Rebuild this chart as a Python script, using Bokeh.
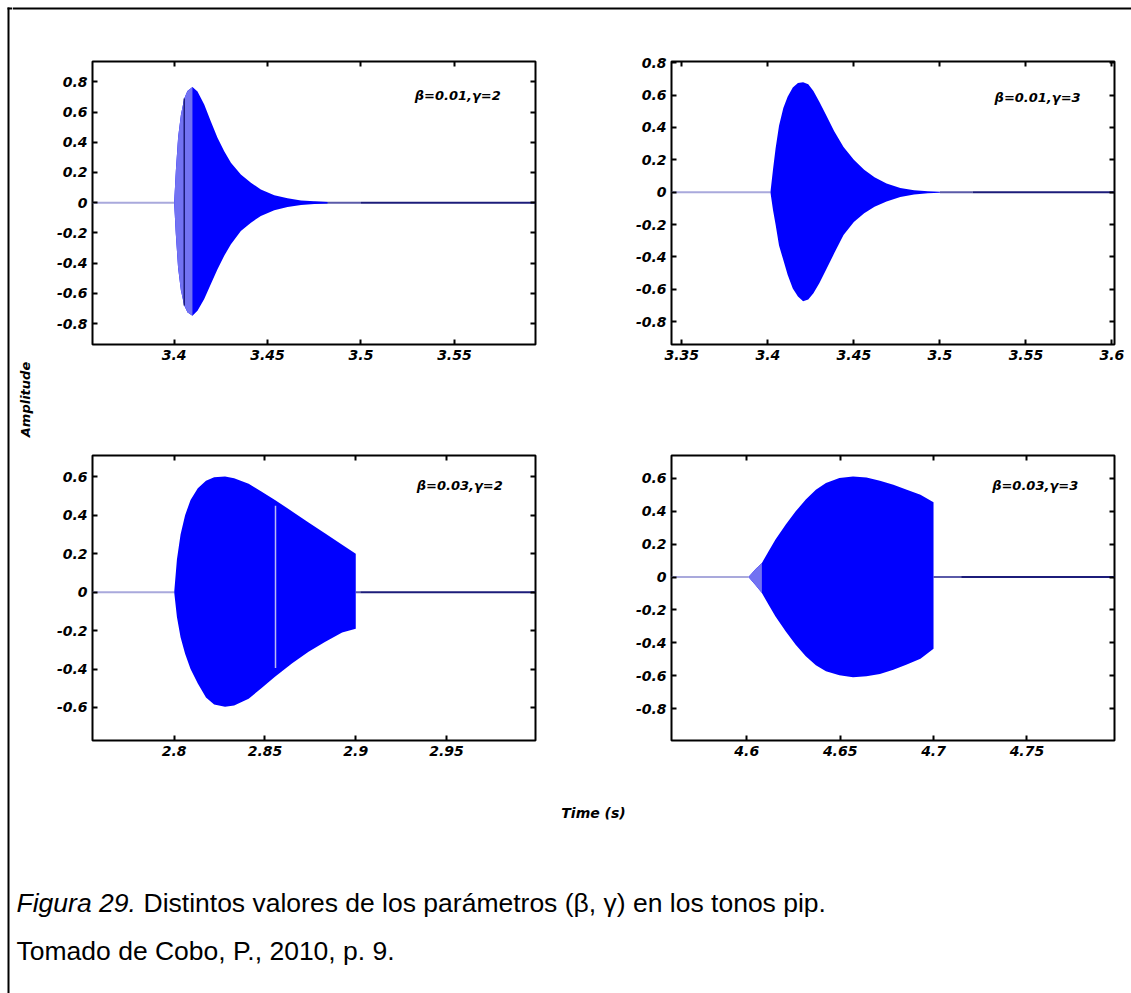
from bokeh.plotting import figure
from bokeh.layouts import row, column
from bokeh.models import FixedTicker, LinearAxis, Label, Range1d
from bokeh.embed import file_html
from bokeh.resources import INLINE

# ---------------- data ----------------
# top-left: beta=0.01, gamma=2
tl_t = [3.4, 3.4009, 3.4021, 3.4036, 3.4054, 3.4071, 3.4098, 3.4125, 3.4161, 3.4196, 3.4232,
        3.4268, 3.4304, 3.4357, 3.4411, 3.4464, 3.4536, 3.4607, 3.4679, 3.475, 3.4821]
tl_upper = [0, 0.21, 0.43, 0.58, 0.69, 0.74, 0.766, 0.737, 0.65, 0.54, 0.43,
            0.34, 0.264, 0.187, 0.132, 0.088, 0.05, 0.029, 0.015, 0.009, 0.005]
tl_lower = [0, -0.21, -0.43, -0.58, -0.68, -0.726, -0.748, -0.715, -0.638, -0.54, -0.44,
            -0.352, -0.275, -0.188, -0.132, -0.088, -0.05, -0.029, -0.015, -0.009, -0.005]
tl_light_n = 7            # first samples drawn in the lighter shade
tl_dark_line_x = [3.4054]
tl_dark_line_y = [-0.68, 0.69]
tl_base_pre = [3.3563, 3.4]
tl_base_mid = [3.475, 3.5]
tl_base_post = [3.5, 3.5934]

# top-right: beta=0.01, gamma=3
tr_t = [3.4015, 3.403, 3.4045, 3.4065, 3.409, 3.4115, 3.4145, 3.4175, 3.4205, 3.4235, 3.4265,
        3.43, 3.434, 3.4385, 3.444, 3.45, 3.456, 3.462, 3.469, 3.477, 3.485, 3.493, 3.5]
tr_upper = [0, 0.14, 0.27, 0.41, 0.52, 0.59, 0.647, 0.675, 0.68, 0.667, 0.626,
            0.558, 0.474, 0.379, 0.28, 0.2, 0.138, 0.092, 0.054, 0.025, 0.012, 0.006, 0.003]
tr_lower = [0, -0.11, -0.2, -0.33, -0.42, -0.51, -0.595, -0.645, -0.675, -0.664, -0.625,
            -0.562, -0.476, -0.38, -0.265, -0.185, -0.13, -0.09, -0.058, -0.03, -0.014, -0.006, -0.003]
tr_base_pre = [3.344, 3.4015]
tr_base_mid = [3.5, 3.519]
tr_base_post = [3.519, 3.6015]

# bottom-left: beta=0.03, gamma=2
bl_t = [2.8, 2.8015, 2.8035, 2.806, 2.809, 2.813, 2.8175, 2.822, 2.828, 2.833, 2.841,
        2.848, 2.8555, 2.865, 2.874, 2.883, 2.8925, 2.9]
bl_upper = [0, 0.17, 0.3, 0.4, 0.48, 0.54, 0.58, 0.598, 0.602, 0.593, 0.564,
            0.524, 0.48, 0.42, 0.362, 0.307, 0.246, 0.2]
bl_lower = [0, -0.13, -0.235, -0.32, -0.4, -0.475, -0.548, -0.585, -0.597, -0.59, -0.555,
            -0.5, -0.44, -0.37, -0.31, -0.26, -0.21, -0.19]
bl_gap_x = [2.8558]
bl_gap_y = [-0.395, 0.45]
bl_base_pre = [2.755, 2.8]
bl_base_mid = [2.9, 2.9025]
bl_base_post = [2.9025, 2.999]

# bottom-right: beta=0.03, gamma=3
br_t = [4.6009, 4.6045, 4.6081, 4.6117, 4.6153, 4.6208, 4.6262, 4.6316, 4.637, 4.6424,
        4.6496, 4.6569, 4.6641, 4.6713, 4.6785, 4.6857, 4.693, 4.7]
br_upper = [0, 0.045, 0.085, 0.156, 0.227, 0.318, 0.399, 0.47, 0.53, 0.571,
            0.601, 0.611, 0.605, 0.585, 0.561, 0.53, 0.5, 0.454]
br_lower = [0, -0.047, -0.097, -0.168, -0.239, -0.33, -0.411, -0.482, -0.536, -0.573,
            -0.597, -0.609, -0.603, -0.589, -0.563, -0.532, -0.496, -0.436]
br_light_n = 3
br_base_pre = [4.5597, 4.6009]
br_base_mid = [4.7, 4.7148]
br_base_post = [4.7148, 4.7969]

# ticks
tl_xticks = [3.4, 3.45, 3.5, 3.55]
tl_xlabels = ["3.4", "3.45", "3.5", "3.55"]
tr_xticks = [3.35, 3.4, 3.45, 3.5, 3.55, 3.6]
tr_xlabels = ["3.35", "3.4", "3.45", "3.5", "3.55", "3.6"]
bl_xticks = [2.8, 2.85, 2.9, 2.95]
bl_xlabels = ["2.8", "2.85", "2.9", "2.95"]
br_xticks = [4.6, 4.65, 4.7, 4.75]
br_xlabels = ["4.6", "4.65", "4.7", "4.75"]
y8_ticks = [-0.8, -0.6, -0.4, -0.2, 0, 0.2, 0.4, 0.6, 0.8]
y8_labels = ["-0.8", "-0.6", "-0.4", "-0.2", "0", "0.2", "0.4", "0.6", "0.8"]
y6_ticks = [-0.6, -0.4, -0.2, 0, 0.2, 0.4, 0.6]
y6_labels = ["-0.6", "-0.4", "-0.2", "0", "0.2", "0.4", "0.6"]

panel_titles = ["\u03b2=0.01,\u03b3=2", "\u03b2=0.01,\u03b3=3", "\u03b2=0.03,\u03b3=2", "\u03b2=0.03,\u03b3=3"]
ylabel_text = "Amplitude"
xlabel_text = "Time (s)"
caption_italic = "Figura 29."
caption_rest = "Distintos valores de los par\u00e1metros (\u03b2, \u03b3) en los tonos pip."
caption_source = "Tomado de Cobo, P., 2010, p. 9."

# ---------------- style ----------------
CHART_FONT = "DejaVu Sans"
CAP_FONT = "Liberation Sans"
BLUE = "#0000ff"
LIGHT_BLUE = "#7272f2"
BASE_LIGHT = "#a9a9dc"
BASE_MID = "#5a5aa8"
NAVY = "#1c1c7a"
TICK_FS = "14px"
ANN_FS = "13px"
CAP_FS = "26.5px"
W, H = 1131, 993
EDGE_W = 12                      # strip holding the left rule
H_HEAD, H_ROW, H_BOT = 20, 390, 193
AMP_W, LEFT_W, RIGHT_W = 38, 550, 531
INNER_W = W - EDGE_W


def add_axes(p, xticks, xlabels, yticks, ylabels):
    for loc in ["below", "above"]:
        ax = LinearAxis(ticker=FixedTicker(ticks=xticks))
        if loc == "below":
            ax.major_label_overrides = dict(zip(xticks, xlabels))
            ax.major_label_standoff = 5
            ax.major_label_text_font_size = TICK_FS
        else:
            ax.major_label_overrides = {t: "" for t in xticks}
            ax.major_label_standoff = 0
            ax.major_label_text_font_size = "0px"
        p.add_layout(ax, loc)
    for loc in ["left", "right"]:
        ax = LinearAxis(ticker=FixedTicker(ticks=yticks))
        if loc == "left":
            ax.major_label_overrides = dict(zip(yticks, ylabels))
            ax.major_label_standoff = 5
            ax.major_label_text_font_size = TICK_FS
        else:
            ax.major_label_overrides = {t: "" for t in yticks}
            ax.major_label_standoff = 0
            ax.major_label_text_font_size = "0px"
        p.add_layout(ax, loc)
    for ax in p.axis:
        ax.axis_line_color = None
        ax.major_tick_in = 5
        ax.major_tick_out = 0
        ax.major_tick_line_color = "black"
        ax.major_tick_line_width = 2
        ax.minor_tick_line_color = None
        ax.major_label_text_font = CHART_FONT
        ax.major_label_text_font_style = "bold italic"
        ax.major_label_text_color = "black"


def panel(xr, yr, w, h, borders):
    p = figure(width=w, height=h, x_range=Range1d(*xr), y_range=Range1d(*yr),
               output_backend="svg", toolbar_location=None,
               x_axis_location=None, y_axis_location=None,
               min_border_left=borders[0], min_border_right=borders[1],
               min_border_top=borders[2], min_border_bottom=borders[3])
    p.grid.visible = False
    p.outline_line_color = "black"
    p.outline_line_width = 2
    p.background_fill_color = "white"
    p.border_fill_color = "white"
    return p


def baseline(p, pre, mid, post):
    p.line(pre, [0, 0], line_color=BASE_LIGHT, line_width=2)
    p.line(mid, [0, 0], line_color=BASE_MID, line_width=2)
    p.line(post, [0, 0], line_color=NAVY, line_width=2)


def ann(p, x, y, text):
    p.add_layout(Label(x=x, y=y, text=text, text_font=CHART_FONT, text_font_size=ANN_FS,
                       text_font_style="bold italic", text_align="left",
                       text_baseline="middle", text_color="black"))


# top-left
tl = panel((3.3563, 3.5934), (-0.939, 0.935), LEFT_W, H_ROW, (42, 65, 40, 66))
baseline(tl, tl_base_pre, tl_base_mid, tl_base_post)
tl.varea(x=tl_t, y1=tl_lower, y2=tl_upper, fill_color=BLUE)
tl.varea(x=tl_t[:tl_light_n], y1=tl_lower[:tl_light_n], y2=tl_upper[:tl_light_n], fill_color=LIGHT_BLUE)
tl.segment(x0=tl_dark_line_x, y0=[tl_dark_line_y[0]], x1=tl_dark_line_x, y1=[tl_dark_line_y[1]],
           line_color=NAVY, line_width=1.5)
add_axes(tl, tl_xticks, tl_xlabels, y8_ticks, y8_labels)
ann(tl, 3.5288, 0.711, panel_titles[0])

# top-right
tr = panel((3.344, 3.6015), (-0.942, 0.808), RIGHT_W, H_ROW, (71, 17, 41, 66))
baseline(tr, tr_base_pre, tr_base_mid, tr_base_post)
tr.varea(x=tr_t, y1=tr_lower, y2=tr_upper, fill_color=BLUE)
add_axes(tr, tr_xticks, tr_xlabels, y8_ticks, y8_labels)
ann(tr, 3.5318, 0.587, panel_titles[1])

# bottom-left
bl = panel((2.755, 2.999), (-0.772, 0.711), LEFT_W, H_ROW, (42, 65, 45, 60))
baseline(bl, bl_base_pre, bl_base_mid, bl_base_post)
bl.varea(x=bl_t, y1=bl_lower, y2=bl_upper, fill_color=BLUE)
bl.segment(x0=bl_gap_x, y0=[bl_gap_y[0]], x1=bl_gap_x, y1=[bl_gap_y[1]],
           line_color="#b8b8f4", line_width=1.5)
add_axes(bl, bl_xticks, bl_xlabels, y6_ticks, y6_labels)
ann(bl, 2.9336, 0.555, panel_titles[2])

# bottom-right
br = panel((4.5597, 4.7969), (-0.993, 0.738), RIGHT_W, H_ROW, (71, 17, 45, 60))
baseline(br, br_base_pre, br_base_mid, br_base_post)
br.varea(x=br_t, y1=br_lower, y2=br_upper, fill_color=BLUE)
br.varea(x=br_t[:br_light_n], y1=br_lower[:br_light_n], y2=br_upper[:br_light_n], fill_color=LIGHT_BLUE)
add_axes(br, br_xticks, br_xlabels, y8_ticks, y8_labels)
ann(br, 4.7314, 0.556, panel_titles[3])


def canvas(w, h):
    c = figure(width=w, height=h, x_range=Range1d(0, w), y_range=Range1d(h, 0),
               output_backend="svg", toolbar_location=None, title=None,
               x_axis_location=None, y_axis_location=None, min_border=0)
    c.grid.visible = False
    c.outline_line_color = None
    c.border_fill_color = "white"
    c.background_fill_color = "white"
    return c


# rule along the left edge and the top of the figure
edge = canvas(EDGE_W, H)
edge.quad(left=[7], right=[9], top=[7], bottom=[H], fill_color="black", line_color=None)
edge.quad(left=[7], right=[EDGE_W], top=[7], bottom=[9], fill_color="black", line_color=None)

header = canvas(INNER_W, H_HEAD)
header.quad(left=[0], right=[INNER_W], top=[7], bottom=[9], fill_color="black", line_color=None)

amp = canvas(AMP_W, 2 * H_ROW)
amp.add_layout(Label(x=13, y=379, text=ylabel_text, angle=90, angle_units="deg",
                     text_font=CHART_FONT, text_font_size="13px", text_font_style="bold italic",
                     text_align="center", text_baseline="middle", text_color="black"))

bottom = canvas(INNER_W, H_BOT)
bottom.add_layout(Label(x=581, y=12, text=xlabel_text, text_font=CHART_FONT, text_font_size="14px",
                        text_font_style="bold italic", text_align="center",
                        text_baseline="middle", text_color="black"))
bottom.add_layout(Label(x=4, y=102, text=caption_italic, text_font=CAP_FONT, text_font_size=CAP_FS,
                        text_font_style="italic", text_align="left", text_baseline="middle",
                        text_color="black"))
bottom.add_layout(Label(x=131, y=102, text=caption_rest, text_font=CAP_FONT, text_font_size=CAP_FS,
                        text_font_style="normal", text_align="left", text_baseline="middle",
                        text_color="black"))
bottom.add_layout(Label(x=4, y=150, text=caption_source, text_font=CAP_FONT, text_font_size=CAP_FS,
                        text_font_style="normal", text_align="left", text_baseline="middle",
                        text_color="black"))

layout = row(edge,
             column(header,
                    row(amp, column(row(tl, tr), row(bl, br))),
                    bottom))

open("out.html", "w").write(file_html(layout, INLINE))
